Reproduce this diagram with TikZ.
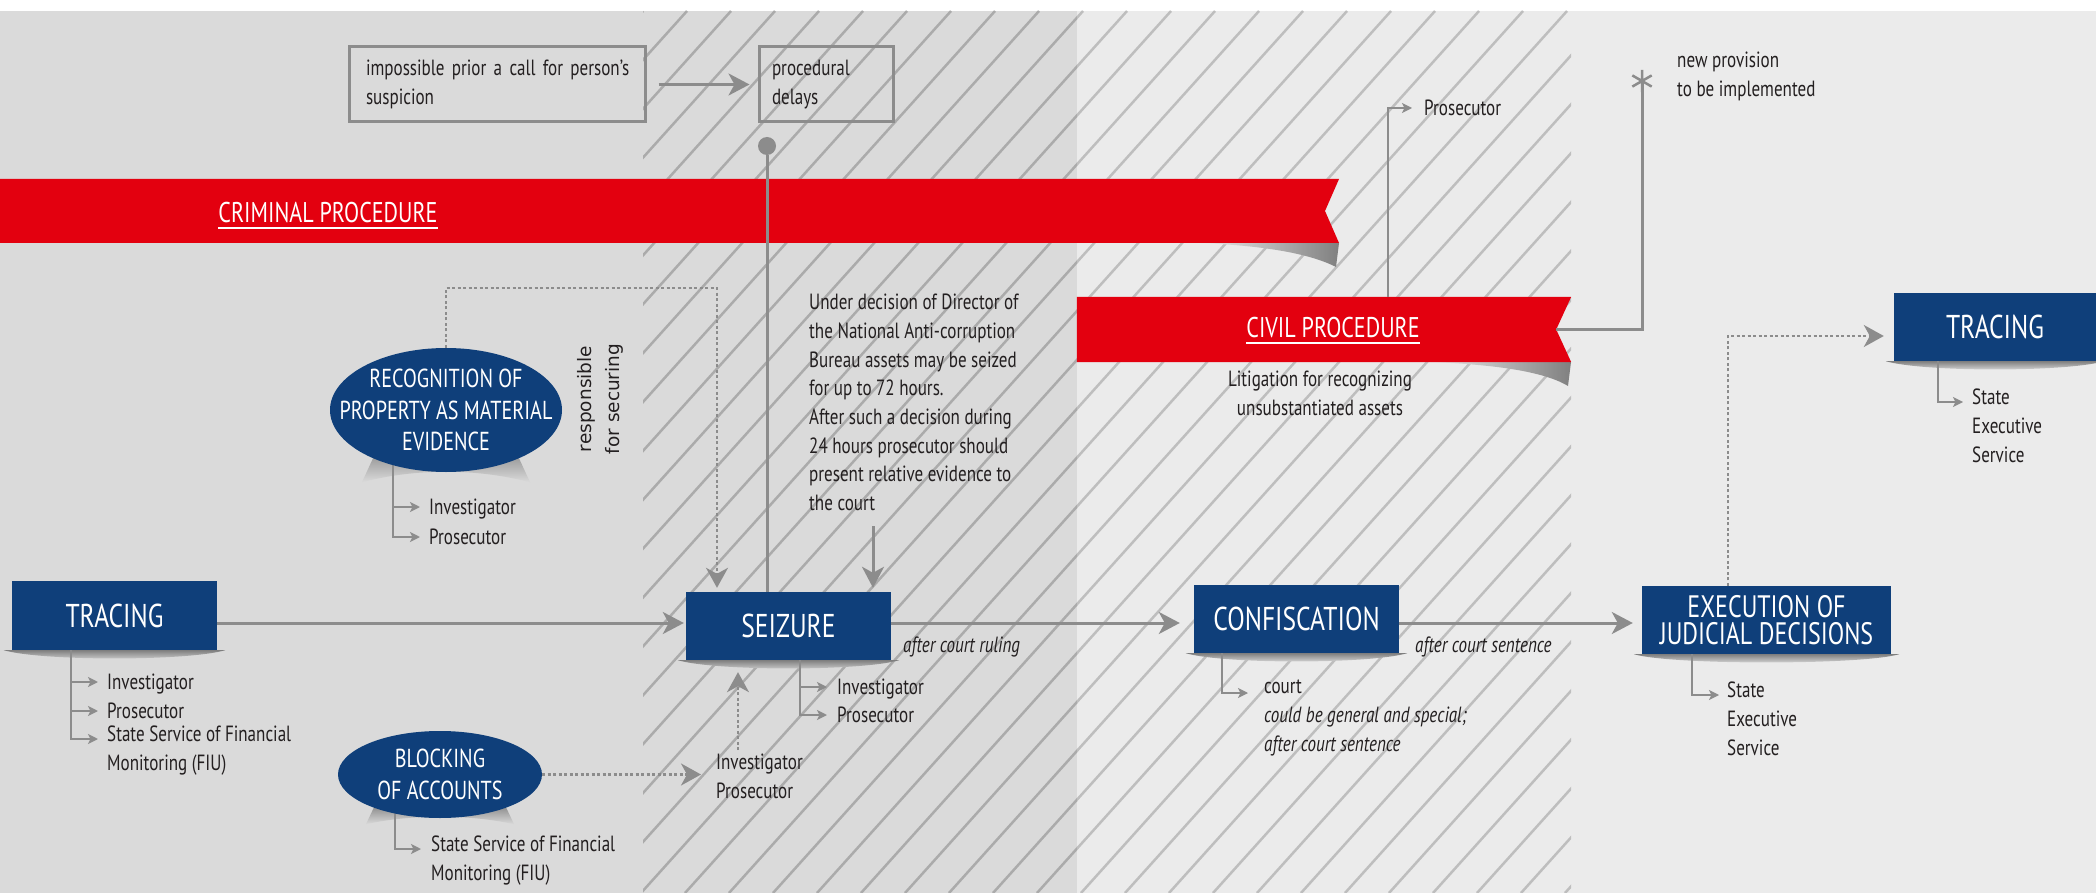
\documentclass[tikz,border=0pt]{standalone}
\usepackage{fontspec}
\setmainfont{PT Sans}[FakeStretch=0.775]
\newfontfamily\respfont{DejaVu Sans}
\usetikzlibrary{arrows.meta,shapes.geometric}
\pgfdeclarelayer{bglayer}
\pgfdeclarelayer{shlayer}
\pgfsetlayers{bglayer,shlayer,main}
\definecolor{bgA}{HTML}{DADADA}
\definecolor{bgB}{HTML}{EBEBEB}
\definecolor{hatchA}{HTML}{ABABAB}
\definecolor{hatchB}{HTML}{BEBEBE}
\definecolor{lineg}{HTML}{8C8C8C}
\definecolor{nblue}{HTML}{0F3F7A}
\definecolor{nred}{HTML}{E3000F}
\definecolor{txt}{HTML}{231F20}
\newcommand\myshadow[2]{%
  \shade[top color=black!50, bottom color=#2]
    ([xshift=-8pt]#1.south west) .. controls ([xshift=30pt,yshift=-11pt]#1.south west)
    and ([xshift=-30pt,yshift=-11pt]#1.south east) .. ([xshift=8pt]#1.south east) -- cycle;}
\newcommand\myellshadow[4]{%
  \shade[top color=black!65, bottom color=#4]
    ([xshift=-#2,yshift=-#3]#1.south) .. controls ([xshift=-30pt,yshift=4pt]#1.south)
    and ([xshift=30pt,yshift=4pt]#1.south) .. ([xshift=#2,yshift=-#3]#1.south)
    -- ([xshift=60pt,yshift=-20pt]#1.center) -- ([xshift=-60pt,yshift=-20pt]#1.center) -- cycle;}
\begin{document}
\begin{tikzpicture}[x=1pt,y=-1pt,
  bluebox/.style={rectangle, fill=nblue, text=white, inner sep=0pt, align=center, font=\fontsize{33}{36}\selectfont},
  blueell/.style={ellipse, fill=nblue, inner sep=0pt},
  elltext/.style={text=white, align=center, inner sep=0pt, font=\fontsize{26}{31.5}\selectfont},
  item/.style={anchor=north west, inner sep=0pt, text=txt, align=left, font=\fontsize{22}{28.7}\selectfont, execute at begin node=\strut},
  topbox/.style={draw=lineg, line width=3pt, inner ysep=0pt, align=left, text=txt, font=\fontsize{22}{28.7}\selectfont},
  bannertext/.style={text=white, inner sep=0pt, font=\fontsize{28.5}{30}\selectfont},
  conn/.style={draw=lineg, line width=3pt},
  flow/.style={conn, -{Stealth[length=21pt,width=22pt,inset=6pt]}},
  dotarrow/.style={draw=lineg, line width=2.3pt, dash pattern=on 3pt off 2.5pt, -{Stealth[length=20pt,width=22pt,inset=6pt]}},
  assign/.style={draw=lineg, line width=2.6pt, -{Stealth[length=10pt,width=10pt,inset=2.5pt]}, shorten >=9pt},
]
\useasboundingbox (0,0) rectangle (2096,893);
\begin{pgfonlayer}{bglayer}
  \fill[white] (0,0) rectangle (2096,893);
  \fill[bgA] (0,11) rectangle (1077,893);
  \fill[bgB] (1077,11) rectangle (2096,893);
  \begin{scope}
    \clip (643,11) rectangle (1077,893);
    \foreach \k in {0,...,42} \draw[hatchA, line width=2.5pt] ({-151+44*\k},893) -- ++(794,-882);
  \end{scope}
  \begin{scope}
    \clip (1077,11) rectangle (1571,893);
    \foreach \k in {0,...,42} \draw[hatchB, line width=2.5pt] ({-151+44*\k},893) -- ++(794,-882);
  \end{scope}
\end{pgfonlayer}

% ---------- banners ----------
\shade[left color=bgB, right color=black!50] (1200,243) -- (1339,243) -- (1336,267) .. controls (1305,251) and (1250,245) .. (1200,243) -- cycle;
\shade[left color=bgB, right color=black!50] (1430,362) -- (1571,362) -- (1568,386) .. controls (1540,369) and (1480,364) .. (1430,362) -- cycle;
\fill[nred] (0,179) -- (1339,179) -- (1325,211) -- (1339,243) -- (0,243) -- cycle;
\node[inner sep=0pt, minimum width=494pt, minimum height=65pt] (civil) at (1324,329.5) {};
\fill[nred] (civil.north west) -- (civil.north east) -- ([xshift=-15pt]civil.east) -- (civil.south east) -- (civil.south west) -- cycle;
\node[bannertext] (crim) at (328,213) {CRIMINAL PROCEDURE};
\draw[white, line width=2pt] ([yshift=-5pt]crim.base west) -- ([yshift=-5pt]crim.base east);
\node[bannertext] (civtxt) at (1333,328) {CIVIL PROCEDURE};
\draw[white, line width=2pt] ([yshift=-5pt]civtxt.base west) -- ([yshift=-5pt]civtxt.base east);

% ---------- top boxes ----------
\node[topbox, minimum width=296pt, minimum height=75pt, text width=262pt, inner xsep=17pt] (imp) at (497,84.5) {\mbox{impossible prior a call for person’s}\\suspicion};
\node[topbox, minimum width=134pt, minimum height=75pt, text width=108pt, inner xsep=13pt] (proc) at (826,84.5) {procedural\\delays};
\draw[flow, shorten <=12pt, shorten >=8pt] (imp) -- (proc);
\node[circle, fill=lineg, minimum size=18pt, inner sep=0pt] (dot) at (767,146) {};

% ---------- blue boxes ----------
\node[bluebox, minimum width=205pt, minimum height=69pt] (tracing) at (114.5,615.5) {TRACING};
\node[bluebox, minimum width=205pt, minimum height=68pt] (seizure) at (788.5,626) {SEIZURE};
\node[bluebox, minimum width=205pt, minimum height=68pt] (confisc) at (1296.5,619) {CONFISCATION};
\node[bluebox, minimum width=249pt, minimum height=68pt, font=\fontsize{31}{27}\selectfont] (exec) at (1766.5,620) {EXECUTION OF\\JUDICIAL DECISIONS};
\node[bluebox, minimum width=202pt, minimum height=68pt] (tracing2) at (1995,327) {TRACING};
\myshadow{tracing}{bgA}
\myshadow{seizure}{bgA}
\myshadow{confisc}{bgB}
\myshadow{exec}{bgB}
\myshadow{tracing2}{bgB}

\node[blueell, minimum width=232pt, minimum height=124pt,
  label={[elltext]center:RECOGNITION OF\\PROPERTY AS MATERIAL\\EVIDENCE}] (recog) at (446,410) {};
\node[blueell, minimum width=204pt, minimum height=87pt,
  label={[elltext]center:BLOCKING\\OF ACCOUNTS}] (block) at (440,774.5) {};
\begin{pgfonlayer}{shlayer}
  \myellshadow{recog}{84pt}{10pt}{bgA}
  \myellshadow{block}{74pt}{6pt}{bgA}
\end{pgfonlayer}

% ---------- text blocks ----------
\node[item] (decision) at (809,294) {Under decision of Director of\\the National Anti-corruption\\Bureau assets may be seized\\for up to 72 hours.\\After such a decision during\\24 hours prosecutor should\\present relative evidence to\\the court};
\node[text=txt, inner sep=0pt, align=center, rotate=90, font=\respfont\fontsize{18.5}{28}\selectfont] (resp) at (600,399) {responsible\\for securing};
\node[item, anchor=north, align=center] (litig) at (1320,371) {Litigation for recognizing\\unsubstantiated assets};
\node[item] (newprov) at (1677,52) {new provision\\to be implemented};
\node[item, font=\fontsize{22}{28.7}\selectfont\itshape] (acr) at (903,632) {after court ruling};
\node[item, font=\fontsize{22}{28.7}\selectfont\itshape] (acs) at (1415,632) {after court sentence};

% ---------- lists ----------
\node[item] (t1) at (107,669) {Investigator};
\node[item] (t2) at (107,698) {Prosecutor};
\node[item] (t3) at (107,726) {State Service of Financial\\Monitoring (FIU)};
\foreach \n in {t1,t2,t3} \draw[assign] ([xshift=59pt]tracing.south west) |- ([yshift=-13pt]\n.north west);

\node[item] (r1) at (429,494) {Investigator};
\node[item] (r2) at (429,524) {Prosecutor};
\begin{pgfonlayer}{shlayer}
\foreach \n in {r1,r2} \draw[assign] ([xshift=-53pt]recog.center) |- ([yshift=-13pt]\n.north west);
\end{pgfonlayer}

\node[item] (s1) at (837,674) {Investigator};
\node[item] (s2) at (837,702) {Prosecutor};
\foreach \n in {s1,s2} \draw[assign, shorten >=10pt] ([xshift=114pt]seizure.south west) |- ([yshift=-13pt]\n.north west);

\node[item] (b1) at (431,836) {State Service of Financial\\Monitoring (FIU)};
\begin{pgfonlayer}{shlayer}
\draw[assign, shorten >=10pt] ([xshift=-45pt]block.center) |- ([yshift=-13pt]b1.north west);
\end{pgfonlayer}

\node[item] (binv) at (716,754) {Investigator\\Prosecutor};

\node[item] (c1) at (1264,680) {court\\\textit{could be general and special;}\\\textit{after court sentence}};
\draw[assign, shorten >=16pt] ([xshift=28pt]confisc.south west) |- ([yshift=-13pt]c1.north west);

\node[item] (e1) at (1727,682) {State\\Executive\\Service};
\draw[assign, shorten >=8pt] ([xshift=50pt]exec.south west) |- ([yshift=-13pt]e1.north west);

\node[item] (u1) at (1972,389) {State\\Executive\\Service};
\draw[assign] ([xshift=44pt]tracing2.south west) |- ([yshift=-13pt]u1.north west);

% ---------- connectors ----------
\draw[conn] (dot) -- (dot |- seizure.north);
\coordinate (da) at (873,526);
\draw[flow, shorten >=4pt] (da) -- (da |- seizure.north);
\coordinate (rc) at (717,288);
\draw[dotarrow, shorten >=4pt] (recog.north) |- (rc) -- (rc |- seizure.north);
\draw[dotarrow, shorten >=15pt] (block.east) -- (block.east -| binv.west);
\coordinate (bu) at (738,750);
\draw[dotarrow, shorten >=12pt] (bu) -- (bu |- seizure.south);
\coordinate (ex) at (1728,336);
\draw[dotarrow, shorten >=10pt] (ex |- exec.north) -- (ex) -- (ex -| tracing2.west);

\coordinate (fy) at (0,623);
\draw[flow, shorten >=2pt] (tracing.east |- fy) -- (seizure.west |- fy);
\draw[flow, shorten >=14pt] (seizure.east |- fy) -- (confisc.west |- fy);
\draw[flow, shorten >=9pt] (confisc.east |- fy) -- (exec.west |- fy);

\coordinate (pc) at (1388,108);
\node[item] (prosec) at (1424,95) {Prosecutor};
\draw[assign, shorten >=12pt] (pc |- civil.north) -- (pc) -- (pc -| prosec.west);

\node[circle, minimum size=22pt, inner sep=0pt] (ast) at (1642,81) {};
\draw[conn] ([xshift=-15pt]civil.east) -| (ast.center);
\draw[draw=lineg, line width=2.5pt] (ast.90) -- (ast.270) (ast.30) -- (ast.210) (ast.150) -- (ast.330);
\end{tikzpicture}
\end{document}
